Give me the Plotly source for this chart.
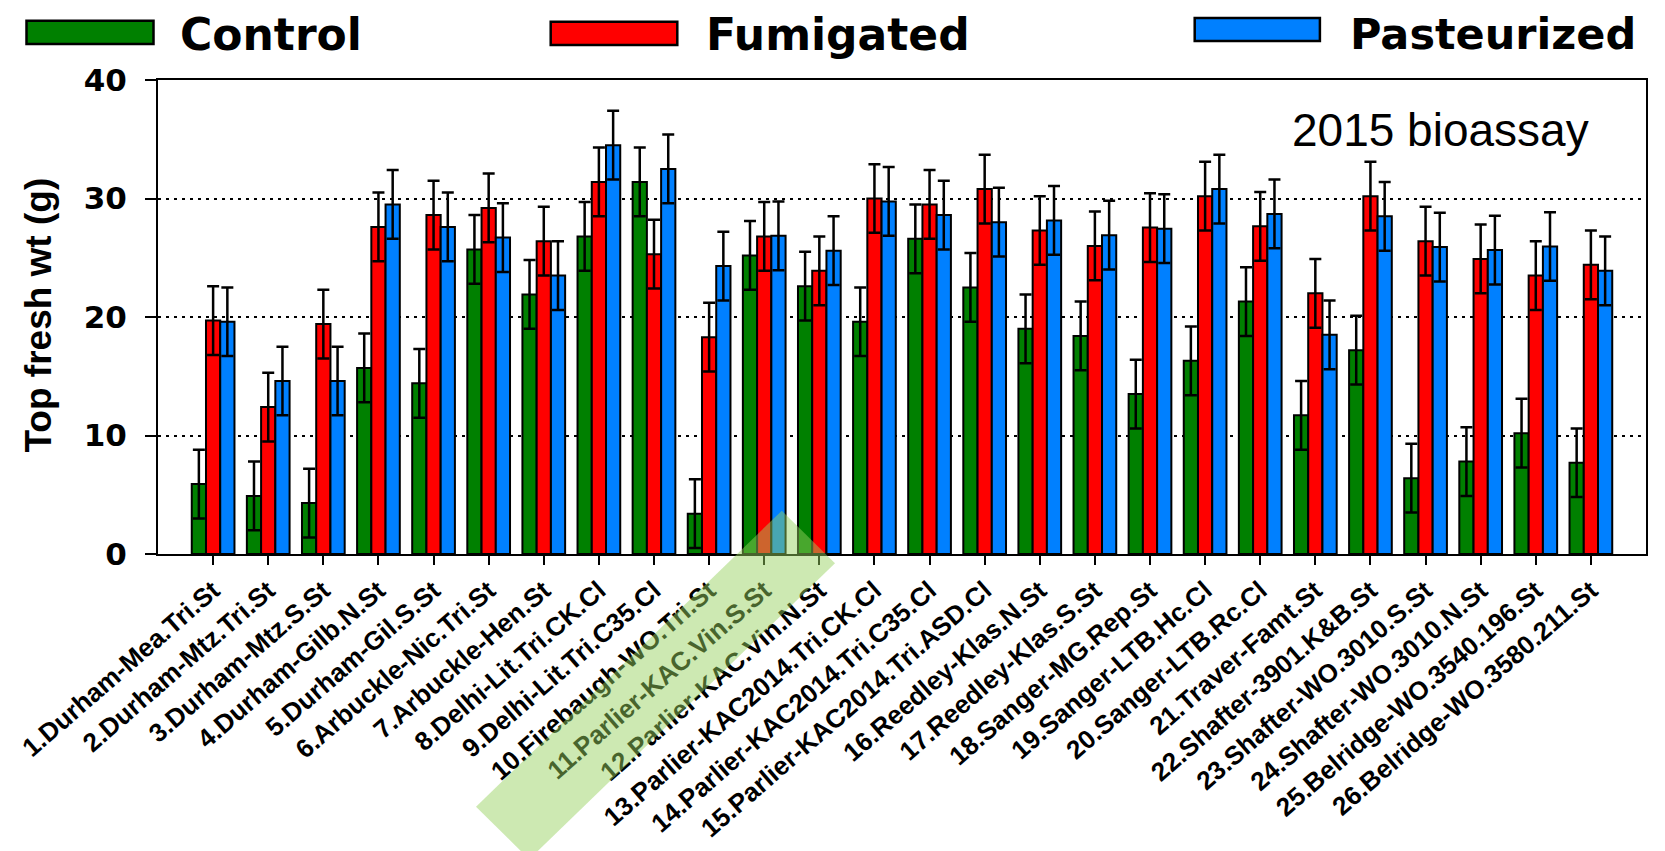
import plotly.graph_objects as go

sites = [
    "1.Durham-Mea.Tri.St", "2.Durham-Mtz.Tri.St", "3.Durham-Mtz.S.St", "4.Durham-Gilb.N.St",
    "5.Durham-Gil.S.St", "6.Arbuckle-Nic.Tri.St", "7.Arbuckle-Hen.St", "8.Delhi-Lit.Tri.CK.Cl",
    "9.Delhi-Lit.Tri.C35.Cl", "10.Firebaugh-WO.Tri.St", "11.Parlier-KAC.Vin.S.St",
    "12.Parlier-KAC.Vin.N.St", "13.Parlier-KAC2014.Tri.CK.Cl", "14.Parlier-KAC2014.Tri.C35.Cl",
    "15.Parlier-KAC2014.Tri.ASD.Cl", "16.Reedley-Klas.N.St", "17.Reedley-Klas.S.St",
    "18.Sanger-MG.Rep.St", "19.Sanger-LTB.Hc.Cl", "20.Sanger-LTB.Rc.Cl", "21.Traver-Famt.St",
    "22.Shafter-3901.K&B.St", "23.Shafter-WO.3010.S.St", "24.Shafter-WO.3010.N.St",
    "25.Belridge-WO.3540.196.St", "26.Belridge-WO.3580.211.St",
]
control = [5.9, 4.9, 4.3, 15.7, 14.4, 25.7, 21.9, 26.8, 31.4, 3.4, 25.2, 22.6, 19.6,
           26.6, 22.5, 19.0, 18.4, 13.5, 16.3, 21.3, 11.7, 17.2, 6.4, 7.8, 10.2, 7.7]
fumigated = [19.7, 12.4, 19.4, 27.6, 28.6, 29.2, 26.4, 31.4, 25.3, 18.3, 26.8, 23.9, 30.0,
             29.5, 30.8, 27.3, 26.0, 27.55, 30.2, 27.65, 22.0, 30.2, 26.4, 24.9, 23.5, 24.4]
pasteurized = [19.6, 14.6, 14.6, 29.5, 27.6, 26.7, 23.5, 34.5, 32.5, 24.3, 26.85, 25.6, 29.75,
               28.6, 28.0, 28.15, 26.9, 27.45, 30.8, 28.7, 18.5, 28.5, 25.9, 25.65, 25.95, 23.9]
standard_error = 2.9
series_names = ["Control", "Fumigated", "Pasteurized"]
series_colors = ["#008000", "#ff0000", "#0080ff"]
y_ticks = [0, 10, 20, 30, 40]

# page body has an 8px margin: the figure is sized and placed to compensate
OFF = 8
W, H = 1665 - OFF, 851 - OFF
ML, MR, MT, MB = 158 - OFF, 19, 80 - OFF, 297
PW, PH = W - ML - MR, H - MT - MB


def px(x):
    return (x - OFF - ML) / PW


def py(y):
    return (H - MB - (y - OFF)) / PH


BOLD = "DejaVu Sans"
ARIAL = "Liberation Sans, Arial"
fig = go.Figure()
for name, vals, col in zip(series_names, [control, fumigated, pasteurized], series_colors):
    fig.add_trace(go.Bar(
        x=sites, y=vals, name=name,
        marker=dict(color=col, line=dict(color="black", width=2)),
        error_y=dict(type="constant", value=standard_error, color="black",
                     thickness=2.5, width=6),
        showlegend=False,
    ))

shapes = []
annotations = []
# custom legend
legend_boxes = [(26.5, 153.5, 20.7, 44), (550.7, 677.3, 21.7, 45), (1194.7, 1319.9, 18, 41)]
legend_text = [(178, 34, 44), (704, 34.5, 44), (1348, 34, 43)]
for (x0, x1, y0, y1), (tx, ty, fs), name, col in zip(legend_boxes, legend_text, series_names, series_colors):
    shapes.append(dict(type="rect", xref="paper", yref="paper", x0=px(x0), x1=px(x1),
                       y0=py(y0), y1=py(y1), fillcolor=col, line=dict(color="black", width=2.5),
                       layer="above"))
    annotations.append(dict(text=name, xref="paper", yref="paper", x=px(tx), y=py(ty),
                            xanchor="left", yanchor="middle", showarrow=False,
                            font=dict(family=BOLD, size=fs, color="black", weight="bold")))

# inset label
annotations.append(dict(text="2015 bioassay", xref="paper", yref="paper", x=px(1440), y=py(130),
                        xanchor="center", yanchor="middle", showarrow=False,
                        font=dict(family=ARIAL, size=46, color="black")))
# y-axis title
annotations.append(dict(text="Top fresh wt (g)", xref="paper", yref="paper", x=px(37.5), y=py(315),
                        xanchor="center", yanchor="middle", showarrow=False, textangle=-90,
                        font=dict(family=ARIAL, size=37, color="black", weight="bold")))

# highlight band over sites 11 and 12
A = (781.8, 510.7)
B = (835.0, 563.3)
D = (476.0, 806.7)
C = (D[0] + B[0] - A[0], D[1] + B[1] - A[1])
path = "M %f,%f L %f,%f L %f,%f L %f,%f Z" % (px(A[0]), py(A[1]), px(B[0]), py(B[1]),
                                              px(C[0]), py(C[1]), px(D[0]), py(D[1]))
shapes.append(dict(type="path", xref="paper", yref="paper", path=path,
                   fillcolor="rgba(150,208,94,0.48)", line=dict(width=0), layer="above"))

fig.update_layout(
    width=W, height=H,
    margin=dict(l=ML, r=MR, t=MT, b=MB, autoexpand=False),
    paper_bgcolor="white", plot_bgcolor="white",
    barmode="group", bargap=0.225, bargroupgap=0,
    shapes=shapes, annotations=annotations,
    font=dict(family=BOLD, color="black"),
)
fig.update_xaxes(
    type="category", range=[-1, len(sites)], automargin=False,
    showline=True, linecolor="black", linewidth=2, mirror=True,
    ticks="outside", ticklen=9, tickwidth=2, tickcolor="black",
    tickangle=-41, tickfont=dict(family=ARIAL, size=26, color="black", weight="bold"),
    showgrid=False,
)
fig.update_yaxes(
    range=[0, 40], tickvals=y_ticks, automargin=False,
    showline=True, linecolor="black", linewidth=2, mirror=True,
    ticks="outside", ticklen=11, tickwidth=2, tickcolor="black",
    tickfont=dict(family=BOLD, size=31, color="black", weight="bold"),
    ticklabelstandoff=12,
    showgrid=True, gridcolor="black", gridwidth=2, griddash="3px,5px",
    zeroline=False,
)
fig.write_html("out.html")
